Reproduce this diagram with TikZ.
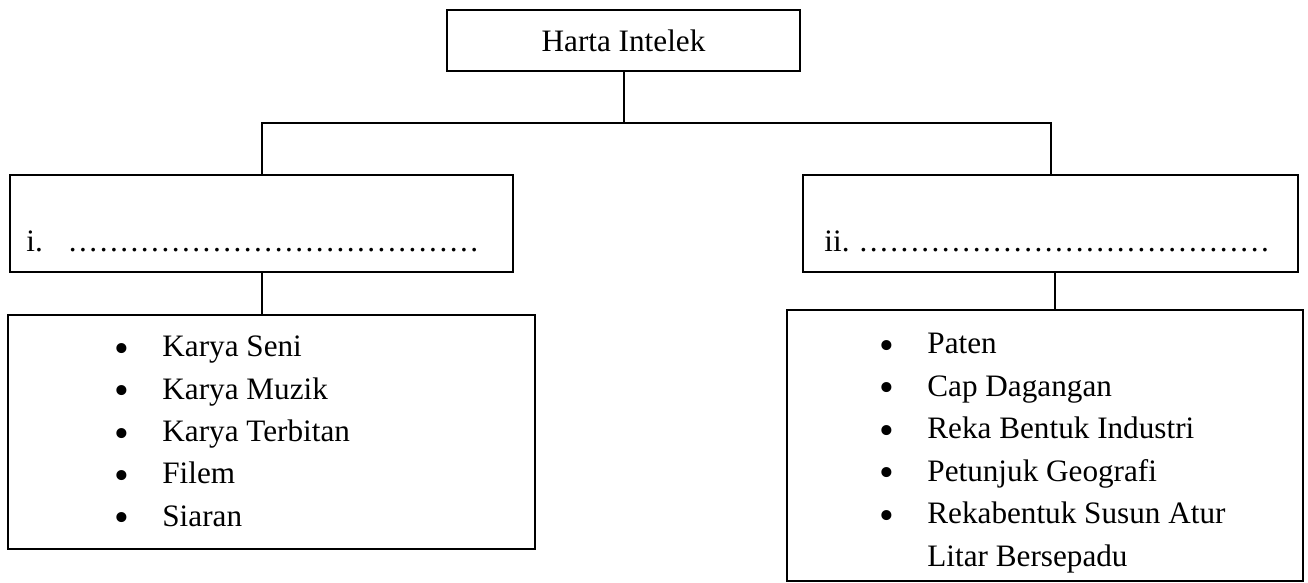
\documentclass[tikz,border=0pt]{standalone}
\usepackage{fontspec}
\setmainfont{Liberation Serif}
\newcommand{\bul}{\makebox[24pt][l]{\raisebox{-2.8pt}{\scalebox{1.35}{•}}}}
\newcommand{\dotrow}{{\addfontfeature{LetterSpace=8}........................................}}
\begin{document}
\begin{tikzpicture}[x=0.5pt,y=-0.5pt,
  conn/.style={line width=1pt},
  box/.style={draw, rectangle, inner sep=0pt, line width=1pt},
  txt/.style={font=\fontsize{15.6pt}{21.25pt}\selectfont, inner sep=0pt},
  item/.style={txt, anchor=base west}]
\useasboundingbox (0,0) rectangle (1308,583);
% boxes
\node[box, txt, minimum width=176.5pt, minimum height=30.5pt] (top) at (623.5,40.5) {Harta Intelek};
\node[box, minimum width=251.5pt, minimum height=48.5pt] (catL) at (261.5,223.5) {};
\node[box, minimum width=247.5pt, minimum height=48.5pt] (catR) at (1050.5,223.5) {};
\node[box, minimum width=263.5pt, minimum height=117pt] (listL) at (271.5,432) {};
\node[box, minimum width=258pt, minimum height=135.5pt] (listR) at (1045,445.5) {};
% labels in category boxes
\node[item] (lblL) at (26,251) {i.\hspace{13pt}\dotrow};
\node[item] (lblR) at (824,251) {ii.\hspace{5pt}\dotrow};
% left list
\node[item] (l1) at (114,357) {\bul Karya Seni};
\node[item] (l2) at (114,399.3) {\bul Karya Muzik};
\node[item] (l3) at (114,441.5) {\bul Karya Terbitan};
\node[item] (l4) at (114,483.8) {\bul Filem};
\node[item] (l5) at (114,526) {\bul Siaran};
% right list
\node[item] (r1) at (879,353.5) {\bul Paten};
\node[item] (r2) at (879,396) {\bul Cap Dagangan};
\node[item] (r3) at (879,438.5) {\bul Reka Bentuk Industri};
\node[item] (r4) at (879,481) {\bul Petunjuk Geografi};
\node[item] (r5) at (879,523.5) {\bul Rekabentuk Susun Atur};
\node[item] (r6) at (927,566) {Litar Bersepadu};
% connectors
\coordinate (jm) at (623.5,123);
\draw[conn] (top.south) -- (jm);
\draw[conn] (catL.north) |- (jm) -| (catR.north);
\draw[conn] (catL.south) -- (catL.south |- listL.north);
\draw[conn] ([xshift=2.25pt]catR.south) -- ([xshift=2.25pt]catR.south |- listR.north);
\end{tikzpicture}
\end{document}
